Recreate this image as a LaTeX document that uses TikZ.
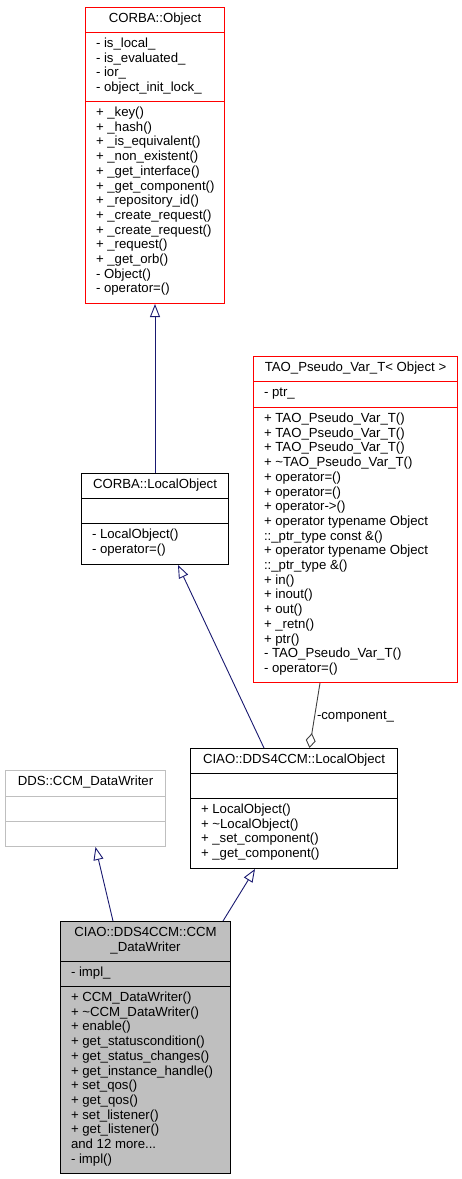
\documentclass[tikz,border=0pt]{standalone}
\usepackage{fontspec}
\setmainfont{Liberation Sans}
\usetikzlibrary{arrows.meta}
\definecolor{edgeblue}{HTML}{191970}
\definecolor{aggcol}{HTML}{404040}
\definecolor{ltgray}{HTML}{BFBFBF}
\tikzset{
  txt/.style={inner sep=0pt, outer sep=0pt, font=\fontsize{13.2}{15}\selectfont},
  cls/.style={draw, line width=1pt, inner sep=0pt, anchor=north west, fill=white},
  inh/.style={draw=edgeblue, line width=0.9pt, -{Triangle[open,length=13pt,width=10pt]}},
  agg/.style={draw=aggcol, line width=0.9pt, -{Diamond[open,length=15pt,width=10pt]}},
  sep/.style={line width=1pt},
}
\newcommand\mydots{...}
\newcommand\seclines[4]{%
  \foreach \t [count=\i from 0] in {#4}
    \node[txt, anchor=base west] (#1\i) at (#2,{#3+\i*14.7}) {\t};}
\begin{document}
\begin{tikzpicture}[x=1pt,y=-1pt]
\useasboundingbox (0,0) rectangle (461,1179);

% CORBA::Object
\node[cls, draw=red, minimum width=139pt, minimum height=296pt] (obj) at (85,7) {};
\draw[sep, red] (85,32) -- (224,32);
\draw[sep, red] (85,101) -- (224,101);
\node[txt, anchor=base] (objt) at (obj.north |- 0,22.5) {CORBA::Object};
\seclines{obja}{96}{47.5}{- is\_local\_, - is\_evaluated\_, - ior\_, - object\_init\_lock\_}
\seclines{objm}{96}{116.5}{+ \_key(), + \_hash(), + \_is\_equivalent(), + \_non\_existent(), + \_get\_interface(), + \_get\_component(), + \_repository\_id(), + \_create\_request(), + \_create\_request(), + \_request(), + \_get\_orb(), - Object(), - operator=()}

% TAO_Pseudo_Var_T
\node[cls, draw=red, minimum width=204pt, minimum height=326pt] (tao) at (253,356) {};
\draw[sep, red] (253,381) -- (457,381);
\draw[sep, red] (253,407) -- (457,407);
\node[txt, anchor=base] (taot) at (tao.north |- 0,371.5) {TAO\_Pseudo\_Var\_T< Object >};
\seclines{taoa}{264}{396.5}{- ptr\_}
\seclines{taom}{264}{422.5}{+ TAO\_Pseudo\_Var\_T(), + TAO\_Pseudo\_Var\_T(), + TAO\_Pseudo\_Var\_T(), + \textasciitilde TAO\_Pseudo\_Var\_T(), + operator=(), + operator=(), + operator->(), + operator typename Object, ::\_ptr\_type const \&(), + operator typename Object, ::\_ptr\_type \&(), + in(), + inout(), + out(), + \_retn(), + ptr(), - TAO\_Pseudo\_Var\_T(), - operator=()}

% CORBA::LocalObject
\node[cls, minimum width=147pt, minimum height=91pt] (clo) at (81,473) {};
\draw[sep] (81,498) -- (228,498);
\draw[sep] (81,523) -- (228,523);
\node[txt, anchor=base] (clot) at (clo.north |- 0,488.5) {CORBA::LocalObject};
\seclines{clom}{92}{538.5}{- LocalObject(), - operator=()}

% CIAO::DDS4CCM::LocalObject
\node[cls, minimum width=207pt, minimum height=120pt] (cl) at (190,748) {};
\draw[sep] (190,773) -- (397,773);
\draw[sep] (190,798) -- (397,798);
\node[txt, anchor=base] (clt) at (cl.north |- 0,763.5) {CIAO::DDS4CCM::LocalObject};
\seclines{clm}{201}{813.5}{+ LocalObject(), + \textasciitilde LocalObject(), + \_set\_component(), + \_get\_component()}

% DDS::CCM_DataWriter
\node[cls, draw=ltgray, minimum width=160pt, minimum height=76pt] (dds) at (5,770) {};
\draw[sep, ltgray] (5,796) -- (165,796);
\draw[sep, ltgray] (5,821) -- (165,821);
\node[txt, anchor=base] (ddst) at (dds.north |- 0,785.5) {DDS::CCM\_DataWriter};

% CIAO::DDS4CCM::CCM_DataWriter
\node[cls, fill=ltgray, minimum width=170pt, minimum height=252pt] (ccm) at (60,921) {};
\draw[sep] (60,961) -- (230,961);
\draw[sep] (60,986) -- (230,986);
\node[txt, anchor=base] (ccmt1) at (ccm.north |- 0,936.5) {CIAO::DDS4CCM::CCM};
\node[txt, anchor=base] (ccmt2) at (ccm.north |- 0,951.2) {\_DataWriter};
\seclines{ccma}{71}{976.5}{- impl\_}
\seclines{ccmm}{71}{1001.5}{+ CCM\_DataWriter(), + \textasciitilde CCM\_DataWriter(), + enable(), + get\_statuscondition(), + get\_status\_changes(), + get\_instance\_handle(), + set\_qos(), + get\_qos(), + set\_listener(), + get\_listener(), and 12 more\mydots, - impl()}

% connectors
\draw[inh] (clo.north) -- (obj.south);
\draw[inh] ([xshift=74pt]cl.north west) -- ([xshift=97pt]clo.south west);
\draw[agg] ([xshift=67pt]tao.south west) -- ([xshift=119.5pt]cl.north west);
\node[txt, anchor=base west] (comp) at (317,719) {-component\_};
\draw[inh] ([xshift=53pt]ccm.north west) -- ([xshift=90.5pt]dds.south west);
\draw[inh] ([xshift=163pt]ccm.north west) -- ([xshift=65pt]cl.south west);
\end{tikzpicture}
\end{document}
